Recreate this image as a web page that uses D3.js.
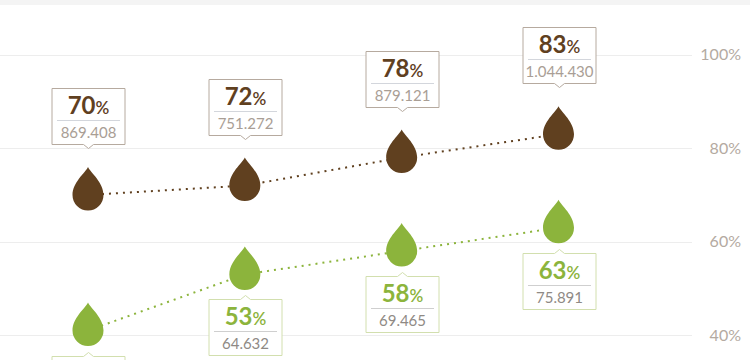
<!DOCTYPE html>
<html>
<head>
<meta charset="utf-8">
<script src="https://cdn.jsdelivr.net/npm/d3@7/dist/d3.min.js"></script>
<style>
  html, body { margin: 0; padding: 0; background: #fff; }
  svg { display: block; font-family: Lato, "Open Sans", sans-serif; }
</style>
</head>
<body>
<svg id="chart" width="750" height="360"></svg>
<script>
// ---- data ----
const categories = ["P1", "P2", "P3", "P4"];
const brownPct = [70, 72, 78, 83];
const brownCount = ["869.408", "751.272", "879.121", "1.044.430"];
const greenPct = [41, 53, 58, 63];
const greenCount = [null, "64.632", "69.465", "75.891"];
const yTicks = [40, 60, 80, 100];

// ---- style ----
const BROWN = "#60401f";
const GREEN = "#8cb43c";
const W = 750, H = 360;

const svg = d3.select("#chart");

// top strip
svg.append("rect").attr("x", 0).attr("y", 0).attr("width", W).attr("height", 5).attr("fill", "#f4f4f4");

const x = d3.scalePoint().domain(categories).range([88, 558.5]).padding(0);
const y = d3.scaleLinear().domain([40, 100]).range([335.2, 54.7]);

// gridlines
svg.append("g").selectAll("line").data(yTicks).join("line")
  .attr("x1", 0).attr("x2", 692)
  .attr("y1", d => Math.round(y(d)) + 0.5).attr("y2", d => Math.round(y(d)) + 0.5)
  .attr("stroke", "#ededed").attr("stroke-width", 1);

// y axis labels
const yAxis = d3.axisLeft(y).tickValues(yTicks).tickFormat(d => d + "%").tickSize(0).tickPadding(0);
const ag = svg.append("g").attr("transform", "translate(741,0)").call(yAxis);
ag.select(".domain").remove();
ag.selectAll("text").attr("font-family", "Lato, sans-serif").attr("font-size", 16).attr("fill", "#b4aaa1");

function dropPath(r, h) {
  return `M0,${-h} C3,${-h + 6} ${r},${-r * 0.8} ${r},0 A${r},${r} 0 0 1 ${-r},0 C${-r},${-r * 0.8} -3,${-h + 6} 0,${-h} Z`;
}

const series = [
  { pct: brownPct, count: brownCount, color: BROWN, above: true, border: "#b6aa9f", sep: "#d3d6dc", numColor: "#a99e95" },
  { pct: greenPct, count: greenCount, color: GREEN, above: false, border: "#d2dfae", sep: "#cfcfcf", numColor: "#8f8a85" }
];

const BW = 73, BH = 56;

series.forEach(s => {
  const pts = categories.map((c, i) => [x(c), y(s.pct[i])]);
  // dotted line
  svg.append("path")
    .attr("d", d3.line()(pts))
    .attr("fill", "none")
    .attr("stroke", s.color)
    .attr("stroke-width", 2)
    .attr("stroke-dasharray", "2,5");

  // drops
  svg.append("g").selectAll("path").data(pts).join("path")
    .attr("transform", d => `translate(${d[0]},${d[1]})`)
    .attr("d", dropPath(15.5, 28))
    .attr("fill", s.color);

  // labels
  const items = categories.map((c, i) => {
    const cy = y(s.pct[i]);
    const top = s.above ? cy - 107 : cy + 25;
    return { c, i, top };
  });
  const lg = svg.append("g").selectAll("g").data(items).join("g")
    .attr("transform", d => `translate(${Math.round(x(d.c)) + 0.5},${Math.round(d.top) + 0.5})`);

  const x0 = -BW / 2, x1 = BW / 2;
  const boxD = s.above
    ? `M${x0},0 H${x1} V${BH} H5 L0,${BH + 4} L-5,${BH} H${x0} Z`
    : `M${x0},0 H-5 L0,-4 L5,0 H${x1} V${BH} H${x0} Z`;
  lg.append("path").attr("d", boxD).attr("fill", "#fff").attr("stroke", s.border).attr("stroke-width", 1);

  // label contents only where they fall inside the canvas
  const vis = lg.filter(d => d.top + 10 < H);

  vis.append("line").attr("x1", x0 + 5).attr("x2", x1 - 5).attr("y1", 32).attr("y2", 32)
    .attr("stroke", s.sep).attr("stroke-width", 1);

  const t = vis.append("text").attr("x", 0).attr("y", 25).attr("text-anchor", "middle")
    .attr("fill", s.color).attr("font-weight", 700);
  t.append("tspan").attr("font-size", 24).text(d => s.pct[d.i]);
  t.append("tspan").attr("font-size", 17).attr("font-weight", 600).text("%");

  vis.append("text").attr("x", 0).attr("y", 49).attr("text-anchor", "middle")
    .attr("font-size", 15).attr("fill", s.numColor)
    .text(d => s.count[d.i] === null ? "" : s.count[d.i]);
});
</script>
</body>
</html>
